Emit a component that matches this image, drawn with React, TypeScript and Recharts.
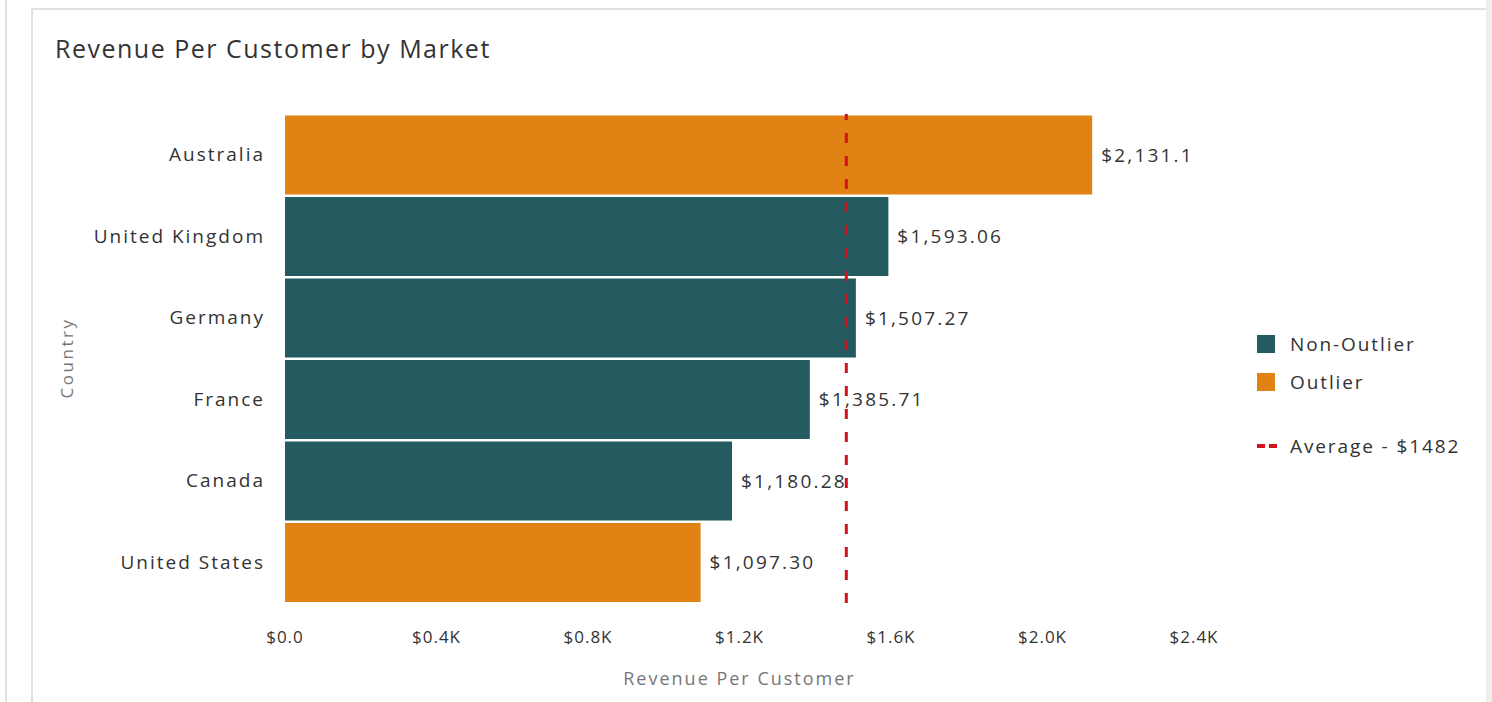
import { BarChart, Bar, XAxis, YAxis, Cell, LabelList, ReferenceLine } from "recharts";

const countries = ["Australia", "United Kingdom", "Germany", "France", "Canada", "United States"];
const revenue = [2131.1, 1593.06, 1507.27, 1385.71, 1180.28, 1097.3];
const valueLabels = ["$2,131.1", "$1,593.06", "$1,507.27", "$1,385.71", "$1,180.28", "$1,097.30"];
const isOutlier = [true, false, false, false, false, true];
const xTicks = [0, 400, 800, 1200, 1600, 2000, 2400];
const average = 1482;

const TEAL = "#245b61";
const ORANGE = "#e08214";
const RED = "#d3121f";
const FONT = "'Open Sans', Lato, sans-serif";

const rows = countries.map((country, i) => ({
  country,
  value: revenue[i],
  label: valueLabels[i],
  outlier: isOutlier[i],
}));

const fmtTick = (v: number) => (v === 0 ? "$0.0" : `$${(v / 1000).toFixed(1)}K`);

export default function App() {
  return (
    <div style={{ position: "absolute", left: 0, top: 0, width: 1492, height: 702, background: "#fff", overflow: "hidden", fontFamily: FONT }}>
      {/* page chrome */}
      <div style={{ position: "absolute", left: 5, top: 0, width: 2, height: 702, background: "#e3e3e3" }} />
      <div style={{ position: "absolute", left: 31, top: 8, width: 1455, height: 700, borderTop: "2px solid #e2e2e2", borderLeft: "2px solid #e2e2e2" }} />
      <div style={{ position: "absolute", left: 1486, top: 0, width: 6, height: 702, background: "#efeeed" }} />

      <div style={{ position: "absolute", left: 55, top: 31, fontSize: 25, letterSpacing: 1.5, color: "#333", whiteSpace: "nowrap" }}>
        Revenue Per Customer by Market
      </div>

      <div style={{ position: "absolute", left: 66, top: 358, transform: "translate(-50%, -50%) rotate(-90deg)", fontSize: 17, letterSpacing: 2.5, color: "#777", whiteSpace: "nowrap" }}>
        Country
      </div>

      <div style={{ position: "absolute", left: 0, top: 0 }}>
        <BarChart
          width={1492}
          height={702}
          data={rows}
          layout="vertical"
          margin={{ top: 114, right: 298, bottom: 39, left: 40 }}
          barCategoryGap={1.5}
        >
          <XAxis
            type="number"
            domain={[0, 2400]}
            ticks={xTicks}
            tickFormatter={fmtTick}
            axisLine={false}
            tickLine={false}
            tickSize={0}
            tickMargin={28}
            height={60}
            tick={{ fill: "#333", fontSize: 17, fontFamily: FONT, letterSpacing: 1 }}
            label={{ value: "Revenue Per Customer", position: "bottom", offset: 9, fill: "#777", fontSize: 18, fontFamily: FONT, letterSpacing: 2 }}
          />
          <YAxis
            type="category"
            dataKey="country"
            width={245}
            axisLine={false}
            tickLine={false}
            tickSize={0}
            tickMargin={20}
            tick={{ fill: "#333", fontSize: 19, fontFamily: FONT, letterSpacing: 2 }}
          />
          <Bar dataKey="value" isAnimationActive={false}>
            {rows.map((r) => (
              <Cell key={r.country} fill={r.outlier ? ORANGE : TEAL} />
            ))}
            <LabelList dataKey="label" position="right" offset={9} fill="#333" fontSize={19} fontFamily={FONT} letterSpacing={2.2} />
          </Bar>
          <ReferenceLine x={average} stroke={RED} strokeWidth={3} strokeDasharray="10 13" ifOverflow="extendDomain" />
        </BarChart>
      </div>

      {/* legend */}
      <div style={{ position: "absolute", left: 1257, top: 333, fontSize: 19, letterSpacing: 1.9, color: "#333" }}>
        <div style={{ display: "flex", alignItems: "center", height: 22 }}>
          <span style={{ width: 18, height: 18, background: TEAL, marginRight: 15 }} />
          Non-Outlier
        </div>
        <div style={{ display: "flex", alignItems: "center", height: 22, marginTop: 16 }}>
          <span style={{ width: 18, height: 18, background: ORANGE, marginRight: 15 }} />
          Outlier
        </div>
        <div style={{ display: "flex", alignItems: "center", height: 22, marginTop: 42 }}>
          <svg width={20} height={6} style={{ marginRight: 13 }}>
            <line x1={0} y1={3} x2={20} y2={3} stroke={RED} strokeWidth={4} strokeDasharray="8 4" />
          </svg>
          Average - $1482
        </div>
      </div>
    </div>
  );
}
